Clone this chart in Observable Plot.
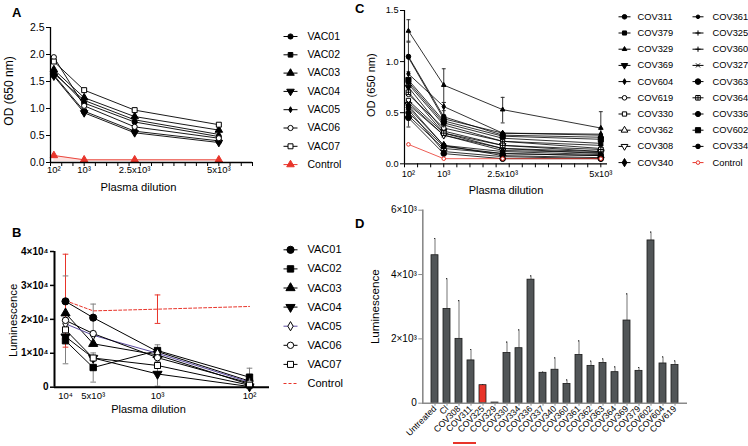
<!DOCTYPE html>
<html><head><meta charset="utf-8">
<script src="https://cdn.jsdelivr.net/npm/d3@7"></script>
<script src="https://cdn.jsdelivr.net/npm/@observablehq/plot@0.6"></script>
<style>
body{margin:0;background:#fff;font-family:"Liberation Sans",Arial,sans-serif;}
#fig{position:relative;width:748px;height:446px;overflow:hidden;background:#fff}
.letter{position:absolute;font-weight:bold;font-size:13px;line-height:13px;color:#000}
</style></head><body><div id="fig"></div>
<script>
// ================= DATA =================
// Panel A: OD (650 nm) vs plasma dilution
const dilutionA = [100, 1000, 2500, 5000];
const dilutionLabelsA = ["10²", "10³", "2.5x10³", "5x10³"];
const seriesA = ["VAC01","VAC02","VAC03","VAC04","VAC05","VAC06","VAC07","Control"];
const odA = [
  [1.68, 1.10, 0.75, 0.48],
  [1.62, 0.95, 0.58, 0.40],
  [1.72, 1.20, 0.85, 0.60],
  [1.60, 0.92, 0.55, 0.37],
  [1.65, 1.15, 0.79, 0.52],
  [1.95, 1.05, 0.66, 0.45],
  [1.87, 1.34, 0.97, 0.70],
  [0.13, 0.05, 0.05, 0.05]
];
const yTicksA = [0, 0.5, 1.0, 1.5, 2.0, 2.5];

// Panel B: Luminescence vs plasma dilution
const dilutionB = [10000, 5000, 1000, 100];
const dilutionLabelsB = ["10⁴", "5x10³", "10³", "10²"];
const seriesB = ["VAC01","VAC02","VAC03","VAC04","VAC05","VAC06","VAC07","Control"];
const lumB = [
  [25300, 20500, 10500, 1800],
  [13700, 5800, 10800, 2950],
  [21800, 12800, 9500, 800],
  [14900, 8600, 3900, 200],
  [18700, 15300, 10000, 1500],
  [19700, 15800, 8700, 1200],
  [16900, 8600, 6400, 600],
  [25500, 22500, 23000, 23800]
];
const errSeriesB = ["VAC01","VAC02","VAC01","VAC02","VAC02","VAC04","VAC02","Control","Control"];
const errDilutionB = [10000, 10000, 5000, 5000, 1000, 1000, 100, 10000, 1000];
const errLowB  = [17800, 6900, 16500, 1500, 9200, 300, 300, 11800, 18800];
const errHighB = [32800, 20500, 24500, 10100, 12500, 7500, 5600, 39200, 27200];
const yTicksB = [0, 10000, 20000, 30000, 40000];
const yLabelsB = ["0", "1×10⁴", "2×10⁴", "3×10⁴", "4×10⁴"];

// Panel C: OD (650 nm) vs plasma dilution, convalescent plasma
const dilutionC = [100, 1000, 2500, 5000];
const dilutionLabelsC = ["10²", "10³", "2.5x10³", "5x10³"];
const seriesC = ["COV311","COV379","COV329","COV369","COV604","COV619","COV330","COV362","COV308","COV340",
                 "COV361","COV325","COV360","COV327","COV363","COV364","COV336","COV602","COV334","Control"];
const odC = [
  [1.05, 0.46, 0.28, 0.26],
  [0.80, 0.40, 0.25, 0.20],
  [1.30, 0.77, 0.53, 0.35],
  [0.75, 0.32, 0.18, 0.12],
  [0.88, 0.56, 0.30, 0.29],
  [0.68, 0.35, 0.22, 0.15],
  [0.62, 0.30, 0.15, 0.10],
  [0.47, 0.15, 0.10, 0.08],
  [0.58, 0.28, 0.13, 0.11],
  [0.55, 0.18, 0.08, 0.06],
  [1.04, 0.44, 0.30, 0.28],
  [0.78, 0.38, 0.22, 0.18],
  [0.53, 0.12, 0.07, 0.05],
  [0.60, 0.28, 0.15, 0.12],
  [0.45, 0.10, 0.05, 0.05],
  [0.70, 0.30, 0.18, 0.14],
  [0.50, 0.17, 0.10, 0.08],
  [0.82, 0.42, 0.27, 0.24],
  [0.57, 0.18, 0.12, 0.09],
  [0.19, 0.05, 0.05, 0.05]
];
const errSeriesC = ["COV329","COV329","COV329","COV329","COV311","COV363","COV604","COV311"];
const errDilutionC = [100, 1000, 2500, 5000, 100, 100, 1000, 1000];
const errLowC  = [1.19, 0.60, 0.40, 0.19, 0.90, 0.36, 0.48, 0.40];
const errHighC = [1.41, 0.93, 0.65, 0.51, 1.20, 0.54, 0.60, 0.52];
const yTicksC = [0, 0.5, 1.0, 1.5];

// Panel D: Luminescence per sample (bar chart)
const samplesD = ["Untreated","Cl","COV308","COV311","COV325","COV329","COV330","COV334","COV336","COV337","COV340",
                  "COV360","COV361","COV362","COV363","COV364","COV369","COV379","COV602","COV604","COV619"];
const lumD = [4600, 2930, 2000, 1330, 560, 20, 1560, 1710, 3840, 945, 1040, 600, 1500, 1160, 1250, 965, 2570, 1005, 5060, 1235, 1185];
const errD = [520, 940, 1190, 340, 20, 0, 340, 570, 120, 20, 370, 125, 440, 145, 125, 165, 830, 105, 260, 205, 130];
const highlightD = ["COV325"];
const yTicksD = [0, 2000, 4000, 6000];
const yLabelsD = ["0", "2×10³", "4×10³", "6×10³"];

// ================= STYLES =================
const FONT = "'Liberation Sans', Arial, Helvetica, sans-serif";
const RED = "#e8342a";
const triDown = {draw(c, s){const a=Math.sqrt(4*s/Math.sqrt(3)),h=a*Math.sqrt(3)/2;c.moveTo(0,2*h/3);c.lineTo(-a/2,-h/3);c.lineTo(a/2,-h/3);c.closePath();}};
const hcap = {draw(c, s){const w=Math.sqrt(s)/2;c.moveTo(-w,0);c.lineTo(w,0);}};
const boxPlus = {draw(c, s){const w=Math.sqrt(s)/2;c.moveTo(-w,-w);c.lineTo(w,-w);c.lineTo(w,w);c.lineTo(-w,w);c.closePath();c.moveTo(-w,0);c.lineTo(w,0);c.moveTo(0,-w);c.lineTo(0,w);}};

const styleA = {
  symbol: ["circle","square","triangle",triDown,"diamond","circle","square","triangle"],
  fill:   ["#000","#000","#000","#000","#000","#fff","#fff",RED],
  stroke: ["#000","#000","#000","#000","#000","#000","#000",RED],
  r:      [2.6,2.6,2.8,2.8,1.8,2.6,2.8,2.8],
  line:   ["#000","#000","#000","#000","#000","#000","#000",RED],
  dash:   [null,null,null,null,null,null,null,null]
};
const styleB = {
  symbol: ["circle","square","triangle",triDown,"diamond","circle","square",null],
  fill:   ["#000","#000","#000","#000","#fff","#fff","#fff","none"],
  stroke: ["#000","#000","#000","#000","#000","#000","#000",RED],
  r:      [3.6,3.6,3.4,3.4,2.8,3.2,3.4,0],
  line:   ["#000","#000","#000","#000","#5a4a9e","#000","#000",RED],
  dash:   [null,null,null,null,null,null,null,"3,2"]
};
const styleC = {
  symbol: ["circle","square","triangle",triDown,"diamond","circle","square","triangle",triDown,"diamond",
           "circle","plus","plus","times","circle",boxPlus,"circle","square","circle","circle"],
  fill:   ["#000","#000","#000","#000","#000","#fff","#fff","#fff","#fff","#000",
           "#000","none","none","none","#000","#fff","#000","#000","#000","#fff"],
  stroke: ["#000","#000","#000","#000","#000","#000","#000","#000","#000","#000",
           "#000","#000","#000","#000","#000","#000","#000","#000","#000",RED],
  r:      [2.3,2.3,1.7,2.4,1.8,2.3,2.4,2.5,2.5,2.5, 1.8,1.8,1.8,2.0,2.8,2.6,2.6,2.9,2.3,1.8],
  line:   Array(19).fill("#000").concat([RED]),
  dash:   Array(20).fill(null)
};

// ================= HELPERS =================
const fig = document.getElementById("fig");
function mk(opts, left, top){
  const svg = Plot.plot({...opts, style:{fontFamily:FONT, fontSize:"10px", color:"#000", background:"transparent", overflow:"visible"}});
  svg.style.position = "absolute"; svg.style.left = left + "px"; svg.style.top = top + "px"; svg.style.maxWidth = "none";
  fig.appendChild(svg); return svg;
}
function letter(t, left, top){ const d=document.createElement("div"); d.className="letter"; d.textContent=t; d.style.left=left+"px"; d.style.top=top+"px"; fig.appendChild(d); }
function labelOf(values, labels){ return d => { const k = values.findIndex(v => Math.abs(v - d) <= Math.abs(v) * 1e-6); return k < 0 ? "" : labels[k]; }; }
function longRows(names, xs, values){ return names.flatMap((s,i)=>xs.map((x,j)=>({s, i, x, y: values[i][j]}))); }
function seriesMarks(rows, names, st, lineWidth){
  const marks = [];
  names.forEach((s,i)=>{
    const data = rows.filter(r=>r.i===i);
    marks.push(Plot.line(data, {x:"x", y:"y", stroke: st.line[i], strokeWidth: lineWidth, strokeDasharray: st.dash[i] || undefined}));
  });
  names.forEach((s,i)=>{
    if (!st.symbol[i]) return;
    const data = rows.filter(r=>r.i===i);
    marks.push(Plot.dot(data, {x:"x", y:"y", symbol: st.symbol[i], r: st.r[i], fill: st.fill[i], stroke: st.stroke[i], strokeWidth: 1}));
  });
  return marks;
}
function errorMarks(ser, dil, lo, hi, colorOf, capR){
  const data = ser.map((s,k)=>({s, x: dil[k], lo: lo[k], hi: hi[k]}));
  return [
    Plot.ruleX(data, {x:"x", y1:"lo", y2:"hi", stroke: d=>colorOf(d.s), strokeWidth: 1}),
    Plot.dot(data, {x:"x", y:"hi", symbol: hcap, r: capR, stroke: d=>colorOf(d.s), strokeWidth: 1, fill: "none"}),
    Plot.dot(data, {x:"x", y:"lo", symbol: hcap, r: capR, stroke: d=>colorOf(d.s), strokeWidth: 1, fill: "none"})
  ];
}
function legendMarks(names, st, y0, step, xLine0, xLine1, xText, fontSize){
  const marks = [];
  names.forEach((n,i)=>{
    const y = y0 + i*step;
    marks.push(Plot.link([n], {x1: xLine0, x2: xLine1, y1: y, y2: y, stroke: st.line[i], strokeWidth: 1, strokeDasharray: st.dash[i] || undefined}));
    if (st.symbol[i]) marks.push(Plot.dot([n], {x: (xLine0+xLine1)/2, y, symbol: st.symbol[i], r: st.r[i], fill: st.fill[i], stroke: st.stroke[i], strokeWidth: 1}));
    marks.push(Plot.text([n], {x: xText, y, text: d=>d, textAnchor: "start", lineAnchor: "middle", fontSize}));
  });
  return marks;
}
const legendScales = {x:{type:"identity", axis:null}, y:{type:"identity", axis:null}};
function sliceStyle(st, a, b){ const o = {}; for (const k in st) o[k] = st[k].slice(a, b); return o; }

// ================= PANEL A =================
const rowsA = longRows(seriesA, dilutionA, odA);
mk({
  width: 262, height: 200, marginLeft: 50, marginRight: 10, marginTop: 27, marginBottom: 38,
  x: {domain: [0, 6000]}, y: {domain: [0, 2.5]},
  marks: [
    Plot.areaY(rowsA.filter(r=>r.s==="Control"), {x:"x", y1:0.02, y2:"y", fill: RED, fillOpacity: 0.15}),
    ...seriesMarks(rowsA, seriesA, styleA, 0.9),
    Plot.ruleY([0], {stroke:"#000", strokeWidth: 1.3}),
    Plot.ruleX([0], {stroke:"#000", strokeWidth: 1.3}),
    Plot.axisY({ticks: yTicksA, tickFormat: d3.format(".1f"), tickSize: 4, tickPadding: 2, fontSize: 10.5, label: null}),
    Plot.axisX({ticks: d3.range(0, 6001, 1000/3), tickFormat: () => "", tickSize: 4, label: null}),
    Plot.axisX({ticks: dilutionA, tickFormat: labelOf(dilutionA, dilutionLabelsA), tickSize: 0, tickPadding: 4, fontSize: 9.5, label: null}),
    Plot.text(["Plasma dilution"], {frameAnchor: "bottom", dy: 25, dx: -13, textAnchor: "middle", lineAnchor: "middle", fontSize: 11.2}),
    Plot.text(["OD (650 nm)"], {frameAnchor: "left", dx: -41, dy: -4, rotate: -90, textAnchor: "middle", lineAnchor: "middle", fontSize: 12})
  ]
}, 0, 0);
mk({width: 90, height: 170, margin: 0, ...legendScales,
  marks: legendMarks(seriesA, styleA, 16, 18.3, 8, 22, 32, 10.5)}, 275, 20);

// ================= PANEL B =================
const rowsB = longRows(seriesB, dilutionB, lumB);
mk({
  width: 280, height: 216, marginLeft: 54, marginRight: 11, marginTop: 21, marginBottom: 59.3,
  x: {type: "log", domain: [13170, 60.6], axis: null}, y: {domain: [0, 40000]},
  marks: [
    ...errorMarks(errSeriesB, errDilutionB, errLowB, errHighB, s => s === "Control" ? RED : "#808080", 3.2),
    ...seriesMarks(rowsB, seriesB, styleB, 1),
    Plot.ruleY([0], {stroke:"#000", strokeWidth: 2}),
    Plot.ruleX([13170], {stroke:"#000", strokeWidth: 2}),
    Plot.axisY({ticks: yTicksB, tickFormat: labelOf(yTicksB, yLabelsB), tickSize: 4, tickPadding: 2, strokeWidth: 1.5, fontSize: 10, fontWeight: "bold", label: null}),
    Plot.text(dilutionB, {x: d => d, frameAnchor: "bottom", dy: 9, text: labelOf(dilutionB, dilutionLabelsB), textAnchor: "middle", lineAnchor: "middle", fontSize: 9.5}),
    Plot.text(["Plasma dilution"], {frameAnchor: "bottom", dy: 22, dx: -13.5, textAnchor: "middle", lineAnchor: "middle", fontSize: 11}),
    Plot.text(["Luminescence"], {frameAnchor: "left", dx: -41, dy: 1, rotate: -90, textAnchor: "middle", lineAnchor: "middle", fontSize: 11.4})
  ]
}, 0, 230);
mk({width: 90, height: 160, margin: 0, ...legendScales,
  marks: legendMarks(seriesB, styleB, 9.3, 19.1, 8, 22, 32, 11)}, 275, 240);

// ================= PANEL C =================
const rowsC = longRows(seriesC, dilutionC, odC);
mk({
  width: 245, height: 200, marginLeft: 34, marginRight: 8, marginTop: 10, marginBottom: 36.7,
  x: {domain: [0, 5170]}, y: {domain: [0, 1.5]},
  marks: [
    ...errorMarks(errSeriesC, errDilutionC, errLowC, errHighC, () => "#333", 2.2),
    ...seriesMarks(rowsC, seriesC, styleC, 0.8),
    Plot.ruleY([0], {stroke:"#000", strokeWidth: 1.2}),
    Plot.ruleX([0], {stroke:"#000", strokeWidth: 1.2}),
    Plot.axisY({ticks: yTicksC, tickFormat: d3.format(".1f"), tickSize: 4, tickPadding: 2, fontSize: 9.2, label: null}),
    Plot.axisX({ticks: d3.range(0, 5001, 1000/3), tickFormat: () => "", tickSize: 4, label: null}),
    Plot.axisX({ticks: dilutionC, tickFormat: labelOf(dilutionC, dilutionLabelsC), tickSize: 0, tickPadding: 7, fontSize: 9.2, label: null}),
    Plot.text(["Plasma dilution"], {frameAnchor: "bottom", dy: 27, textAnchor: "middle", lineAnchor: "middle", fontSize: 11}),
    Plot.text(["OD (650 nm)"], {frameAnchor: "left", dx: -33, dy: -2, rotate: -90, textAnchor: "middle", lineAnchor: "middle", fontSize: 11})
  ]
}, 370, 0);
mk({width: 140, height: 175, margin: 0, ...legendScales,
  marks: [
    ...legendMarks(seriesC.slice(0, 10), sliceStyle(styleC, 0, 10), 11.3, 16.2, 6, 18, 25, 9.3),
    ...legendMarks(seriesC.slice(10), sliceStyle(styleC, 10, 20), 11.3, 16.2, 80, 91, 100, 9.3)
  ]}, 612, 5);

// ================= PANEL D =================
const rowsD = samplesD.map((c, i) => ({c, v: lumD[i], e: errD[i], hot: highlightD.includes(c)}));
mk({
  width: 327, height: 246, marginLeft: 52.3, marginRight: 10, marginTop: 9.7, marginBottom: 43.3,
  x: {type: "band", domain: samplesD, padding: 0.38}, y: {domain: [0, 6000]},
  marks: [
    Plot.ruleX(rowsD.filter(d => d.e > 0), {x: "c", y1: "v", y2: d => d.v + d.e, stroke: "#8a8a8a", strokeWidth: 1.2}),
    Plot.tickY(rowsD.filter(d => d.e > 0), {x: "c", y: d => d.v + d.e, stroke: "#333", strokeWidth: 1.2, insetLeft: 4, insetRight: 4}),
    Plot.barY(rowsD, {x: "c", y: "v", fill: d => d.hot ? RED : "#515557", stroke: "#1a1a1a", strokeWidth: 0.8}),
    Plot.ruleY([0], {stroke: "#8a8a8a", strokeWidth: 1.6}),
    Plot.frame({anchor: "left", stroke: "#8a8a8a", strokeWidth: 1.6}),
    Plot.axisY({ticks: yTicksD, tickFormat: labelOf(yTicksD, yLabelsD), tickSize: 4, tickPadding: 2, stroke: "#8a8a8a", fontSize: 10, label: null}),
    Plot.axisX({tickRotate: -45, tickSize: 3, tickPadding: 1, stroke: "#8a8a8a", fontSize: 8.8, label: null}),
    Plot.text(["Luminescence"], {frameAnchor: "left", dx: -48, rotate: -90, textAnchor: "middle", lineAnchor: "middle", fontSize: 11.6})
  ]
}, 370, 200);
// red underline annotation under the highlighted sample labels
const ul = document.createElement("div");
ul.style.cssText = "position:absolute;left:453px;top:441.5px;width:23px;height:2.2px;background:" + RED;
fig.appendChild(ul);

letter("A", 12, 6);
letter("B", 12, 226);
letter("C", 355, 2);
letter("D", 355, 217);
</script></body></html>
